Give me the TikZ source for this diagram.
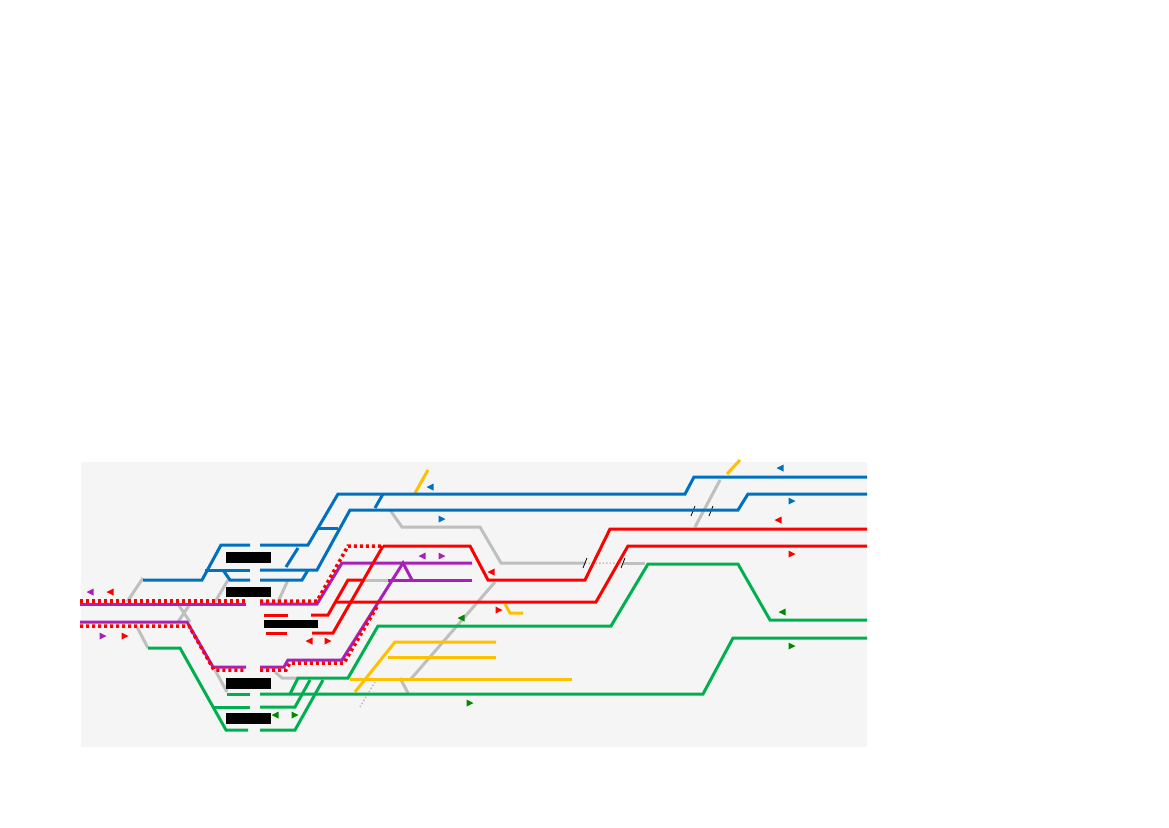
\documentclass[tikz,border=0pt]{standalone}
\usepackage{tikz}
\definecolor{lblue}{HTML}{0070C0}
\definecolor{lred}{HTML}{FF0000}
\definecolor{lgreen}{HTML}{00B050}
\definecolor{lyellow}{HTML}{FFC000}
\definecolor{lpurple}{HTML}{A820B8}
\definecolor{lgray}{HTML}{BFBFBF}
\definecolor{tgreen}{HTML}{008A00}
\tikzstyle{track} = [line width=3pt]
\tikzstyle{dotted red} = [line width=3.5pt, lred, dash pattern=on 3pt off 3pt]
\newcommand{\arrl}[3]{\fill[#1] (#2+3.5,#3-3.5) -- (#2-3.5,#3) -- (#2+3.5,#3+3.5) -- cycle;}
\newcommand{\arrr}[3]{\fill[#1] (#2-3.5,#3-3.5) -- (#2+3.5,#3) -- (#2-3.5,#3+3.5) -- cycle;}
\begin{document}
\begin{tikzpicture}[x=1pt,y=-1pt]
  \useasboundingbox (0,0) rectangle (1169,827);
  \fill[gray!8] (81,462) rectangle (867,747);
  % gray tracks
  \begin{scope}[track, lgray]
    \draw (127,602) -- (143,578);
    \draw (137,627) -- (148,648);
    \draw (178,604) -- (190,622) (190,604) -- (178,622);
    \draw (215,602) -- (228,580);
    \draw (278,602) -- (288,580);
    \draw (215,670) -- (227,692);
    \draw (275,672) -- (282,678) -- (298,678);
    \draw (362,580) -- (388,580);
    \draw (390,510) -- (402,527) -- (480,527) -- (501,563) -- (585,563);
    \draw (623,563) -- (645,563);
    \draw (495,582) -- (410,680);
    \draw (400,678) -- (408,693);
    \draw (695,527) -- (720,480);
  \end{scope}
  \draw[line width=1.5pt, lgray, dotted] (585,563) -- (623,563) (693,511) -- (711,511) (360,707) -- (375,682);
  \foreach \bx/\by in {585/563, 623/563, 693/511, 711/511}
    \draw[black, line width=0.8pt] (\bx-2,\by+5) -- (\bx+2,\by-5);
  % yellow
  \begin{scope}[track, lyellow]
    \draw (415,493) -- (428,470);
    \draw (727,474) -- (740,460);
    \draw (505,604) -- (510,613) -- (523,613);
    \draw (496,642) -- (395,642) -- (355,692);
    \draw (388,657) -- (496,657);
    \draw (350,679) -- (572,679);
  \end{scope}
  % blue
  \begin{scope}[track, lblue]
    \draw (143,580) -- (202,580) -- (221,545) -- (250,545);
    \draw (260,545) -- (308,545) -- (338,494) -- (685,494) -- (694,477) -- (867,477);
    \draw (205,570) -- (250,570);
    \draw (260,570) -- (317,570) -- (350,510) -- (738,510) -- (748,494) -- (867,494);
    \draw (223,570) -- (230,580) -- (250,580);
    \draw (260,580) -- (302,580) -- (308,570);
    \draw (286,567) -- (298,548);
    \draw (318,528) -- (338,528);
    \draw (375,508) -- (383,494);
  \end{scope}
  % green
  \begin{scope}[track, lgreen]
    \draw (148,648) -- (180,648) -- (226,730) -- (248,730);
    \draw (260,730) -- (295,730) -- (323,680);
    \draw (867,620) -- (770,620) -- (738,564) -- (648,564) -- (611,626) -- (378,626) -- (348,678) -- (298,678) -- (290,694);
    \draw (227,694) -- (250,694);
    \draw (260,694) -- (703,694) -- (733,638) -- (867,638);
    \draw (213,707) -- (250,707);
    \draw (260,707) -- (295,707) -- (310,680);
  \end{scope}
  % purple
  \begin{scope}[track, lpurple]
    \draw (80,604) -- (246,604);
    \draw (260,604) -- (317,604) -- (342,563) -- (472,563);
    \draw (80,622) -- (187,622) -- (213,667) -- (246,667);
    \draw (260,667) -- (284,667) -- (288,660) -- (342,660) -- (403,563) -- (412,580);
    \draw (388,580) -- (472,580);
  \end{scope}
  % red
  \begin{scope}[track, lred]
    \draw (383,546) -- (470,546) -- (488,580) -- (585,580) -- (610,529) -- (867,529);
    \draw (362,580) -- (348,580) -- (328,615) -- (311,615);
    \draw (335,602) -- (596,602) -- (628,546) -- (867,546);
    \draw (264,615) -- (288,615);
    \draw (266,633) -- (287,633);
    \draw (312,633) -- (333,633) -- (383,546);
  \end{scope}
  \draw[dotted red] (80,601) -- (246,601);
  \draw[dotted red] (260,601) -- (317,601) -- (348,546) -- (383,546);
  \draw[dotted red] (80,626) -- (189,626) -- (214,670) -- (246,670);
  \draw[dotted red] (260,670) -- (286,670) -- (290,663) -- (344,663) -- (378,605);
  % platforms
  \foreach \ax/\ay/\bx/\by in {226/552/271/563, 226/587/271/597, 264/620/318/628, 226/678/271/689, 226/713/271/724}
    \fill[black] (\ax,\ay) rectangle (\bx,\by);
  % direction marks
  \arrl{lpurple}{90}{592} \arrl{lred}{110}{592}
  \arrr{lpurple}{103}{636} \arrr{lred}{125}{636}
  \arrl{lred}{309}{641} \arrr{lred}{328}{641}
  \arrl{lpurple}{422}{556} \arrr{lpurple}{442}{556}
  \arrl{lblue}{430}{487} \arrr{lblue}{442}{519}
  \arrl{lred}{491}{572} \arrr{lred}{499}{610}
  \arrl{tgreen}{461}{618} \arrr{tgreen}{470}{703}
  \arrl{tgreen}{275}{715} \arrr{tgreen}{295}{715}
  \arrl{lblue}{780}{468} \arrr{lblue}{792}{501}
  \arrl{lred}{778}{520} \arrr{lred}{792}{554}
  \arrl{tgreen}{782}{612} \arrr{tgreen}{792}{646}
\end{tikzpicture}
\end{document}
